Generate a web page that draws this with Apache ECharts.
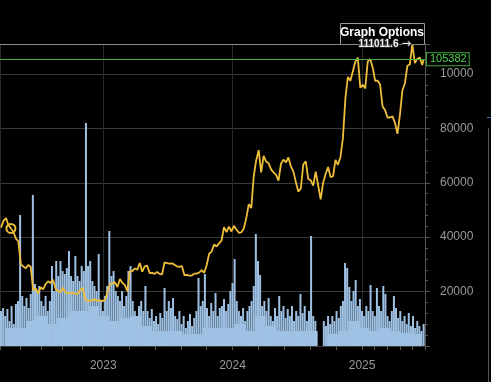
<!DOCTYPE html>
<html><head><meta charset="utf-8">
<script src="https://cdn.jsdelivr.net/npm/echarts@6/dist/echarts.min.js"></script>
<style>html,body{margin:0;padding:0;background:#000;overflow:hidden}#c{width:491px;height:382px;}</style>
</head><body><div id="c"></div>
<script>
// ---- data ----
const priceStart = '2022-03-18';
const priceStepDays = 7;
const priceValues = [43500,46000,47000,44500,43200,42000,39500,38500,30000,29200,
 28600,29800,29100,20500,21200,19300,21600,20800,22700,23800,
 23200,24400,21100,20200,19800,21400,19700,19300,19400,19500,
 19200,19200,20600,21300,17000,16700,16500,17000,17100,16600,
 16800,16500,16900,19900,22700,23100,23400,21700,24600,23200,
 22400,20200,27400,27500,28500,28000,30500,27300,29300,29500,
 26800,26900,26500,27200,26500,26300,30700,30500,30300,30400,
 29900,29300,29100,29400,26100,26100,25900,25900,26600,26600,
 27000,27900,26900,29700,33900,34700,37300,36600,37700,38700,
 43700,41900,43900,42100,44200,42800,41600,41800,43200,47100,
 52100,50700,62400,68300,72000,63800,69900,67800,67200,64900,
 63800,62900,60800,67000,68500,67500,69300,66000,64100,60300,
 56700,57900,66700,67900,61400,60900,59000,64100,59100,53900,
 60000,63200,65800,62100,62400,68400,66600,69500,76500,91100,
 98900,97500,101000,104500,106000,95000,96000,94700,104500,105500,
 102400,97500,97500,96100,88000,86700,84000,84000,84400,82000,
 78000,85000,94000,96500,103000,103500,111011.6,104000,105500,106000,
 103300];
const lastPriceDate = '2025-06-24';
const lastPrice = 105382;
const maxPrice = 111011.6;
const markedPointIndex = 4;

// volume, sampled every 6 days
const volumeStart = '2022-03-18';
const volumeStepDays = 6;
const volumeValues = [35,38,30,37,25,40,22,42,45,131,
 50,40,48,38,52,151,62,55,60,45,
 40,50,35,45,80,55,85,70,85,75,
 72,78,95,70,65,90,70,65,80,75,
 223,80,85,65,60,55,92,45,35,50,
 60,115,70,75,55,50,45,55,40,50,
 75,80,45,35,30,40,45,35,60,35,
 28,37,25,30,22,33,28,58,35,45,
 38,48,30,27,35,22,30,18,25,32,
 20,28,35,68,40,45,72,38,30,43,
 35,53,30,38,40,47,35,42,55,63,
 87,45,35,30,38,25,35,40,45,60,
 112,85,71,40,45,35,48,30,25,38,
 30,50,35,40,28,37,30,40,25,35,
 30,52,33,40,25,35,110,30,25,0,
 0,0,25,20,30,22,30,25,35,28,
 40,45,83,78,59,45,55,66,40,47,
 35,30,40,35,61,35,30,58,40,35,
 60,52,30,25,35,50,38,28,35,25,
 30,22,33,20,30,18,25,20,15,22];
// lower volume envelope (30-day blocks), the solid part under the spikes
const baseVolumeStart = '2022-03-18';
const baseVolumeStepDays = 30;
const baseVolumeValues = [18,18,25,30,22,28,35,35,40,30,
 25,28,30,20,15,15,15,12,12,18,
 18,18,22,15,30,20,15,15,15,15,
 0,12,15,25,18,15,18,15,13,12];
const volumeAxisMax = 302;

const axisStart = '2022-03-18';
const axisEnd = '2025-06-25';
const priceTicks = [0, 20000, 40000, 60000, 80000, 100000];

// ---- helpers ----
function addDays(start, n) {
  const p = start.split('-').map(Number);
  const d = new Date(Date.UTC(p[0], p[1] - 1, p[2] + n));
  return d.toISOString().slice(0, 10);
}
const priceData = priceValues.map((v, i) => [addDays(priceStart, i * priceStepDays), v]);
priceData.push([lastPriceDate, lastPrice]);
const volumeData = volumeValues.map((v, i) => [addDays(volumeStart, i * volumeStepDays), v]);
const baseVolumeData = baseVolumeValues.map((v, i) => [addDays(baseVolumeStart, i * baseVolumeStepDays + baseVolumeStepDays / 2), v]);

const chart = echarts.init(document.getElementById('c'), null, {renderer: 'canvas'});
const FONT = 'Liberation Sans, Arial, sans-serif';
const YELLOW = '#eebd3a';
chart.setOption({
  backgroundColor: '#000',
  animation: false,
  grid: {left: 0, right: 66, top: 44, bottom: 36, containLabel: false, outerBoundsMode: 'none'},
  xAxis: [{
    type: 'time', min: axisStart, max: axisEnd, splitNumber: 3,
    axisLine: {show: true, lineStyle: {color: '#3a3a3a'}},
    axisTick: {show: true, length: 4, lineStyle: {color: '#555'}},
    minorTick: {show: true, splitNumber: 5, length: 4, lineStyle: {color: '#555'}},
    splitLine: {show: true, lineStyle: {color: '#2a2a2a'}},
    axisLabel: {
      color: '#9a9a9a', fontSize: 12, fontFamily: FONT, margin: 14,
      showMinLabel: false, showMaxLabel: false,
      formatter: function (val) {
        const d = new Date(val);
        return (d.getMonth() === 0 && d.getDate() === 1) ? String(d.getFullYear()) : '';
      }
    }
  }, {
    type: 'time', min: axisStart, max: axisEnd, show: false
  }],
  yAxis: [{
    type: 'value', position: 'right', min: 0, max: maxPrice, interval: 20000,
    axisLine: {show: true, lineStyle: {color: '#555'}},
    axisTick: {show: true, length: 5, lineStyle: {color: '#555'}},
    minorTick: {show: true, splitNumber: 5, length: 3, lineStyle: {color: '#555'}},
    splitLine: {show: true, lineStyle: {color: '#3a3a3a'}},
    axisLabel: {
      color: '#9a9a9a', fontSize: 12, fontFamily: FONT, margin: 15,
      showMinLabel: false, showMaxLabel: false,
      width: 36, overflow: 'truncate', ellipsis: '',
      formatter: function (v) { return priceTicks.indexOf(v) >= 0 ? String(v) : ''; }
    }
  }, {
    type: 'value', min: 0, max: volumeAxisMax, show: false
  }],
  series: [{
    type: 'bar', name: 'VolumeBase', xAxisIndex: 1, yAxisIndex: 1,
    data: baseVolumeData, barWidth: 11, z: 2,
    itemStyle: {color: '#a8cbea'}
  }, {
    type: 'bar', name: 'Volume', xAxisIndex: 0, yAxisIndex: 1,
    data: volumeData, barWidth: 2, z: 2,
    itemStyle: {color: '#9ec1e3'}
  }, {
    type: 'line', name: 'Price', yAxisIndex: 0, data: priceData,
    showSymbol: false, symbol: 'none', z: 3,
    lineStyle: {color: YELLOW, width: 1.8},
    markPoint: {
      symbol: 'circle', symbolSize: 9, silent: true,
      itemStyle: {color: 'rgba(0,0,0,0)', borderColor: YELLOW, borderWidth: 2},
      label: {show: false},
      data: [{coord: priceData[markedPointIndex]}]
    },
    markLine: {
      silent: true, symbol: ['none', 'none'], animation: false,
      data: [{
        yAxis: lastPrice,
        lineStyle: {color: '#4fae3f', width: 1, type: 'solid'},
        label: {
          show: true, position: 'end', distance: 2, formatter: String(lastPrice),
          color: '#4fd24f', fontSize: 11, fontFamily: FONT,
          backgroundColor: '#000', borderColor: '#3ea83e', borderWidth: 1,
          padding: [1, 2, 0, 3]
        }
      }, {
        yAxis: maxPrice,
        lineStyle: {color: '#8a8a8a', width: 1, type: 'solid'},
        label: {
          show: true, position: 'insideEnd', distance: 14,
          formatter: '{a|' + String(maxPrice) + '} {b|\u2192}',
          textBorderColor: '#222', textBorderWidth: 2,
          rich: {
            a: {color: '#f2f2f2', fontSize: 10, fontWeight: 'bold', fontFamily: FONT,
                textBorderColor: '#222', textBorderWidth: 2},
            b: {color: '#f2f2f2', fontSize: 11, fontFamily: 'DejaVu Sans',
                textBorderColor: '#222', textBorderWidth: 2}
          }
        }
      }]
    }
  }],
  graphic: [
    {type: 'rect', z: 1, shape: {x: 340.5, y: 23.5, width: 84, height: 21},
     style: {fill: '#000', stroke: '#9a9a9a', lineWidth: 1}},
    {type: 'text', z: 1, x: 382, y: 33,
     style: {text: 'Graph Options', fill: '#fff', font: 'bold 12px Liberation Sans, Arial, sans-serif',
             align: 'center', verticalAlign: 'middle'}},
    {type: 'line', z: 1, shape: {x1: 488.5, y1: 128, x2: 488.5, y2: 382},
     style: {stroke: '#555', lineWidth: 1}},
    {type: 'line', z: 1, shape: {x1: 487, y1: 117.5, x2: 491, y2: 117.5},
     style: {stroke: '#3a6fc0', lineWidth: 1}}
  ]
});
</script></body></html>
